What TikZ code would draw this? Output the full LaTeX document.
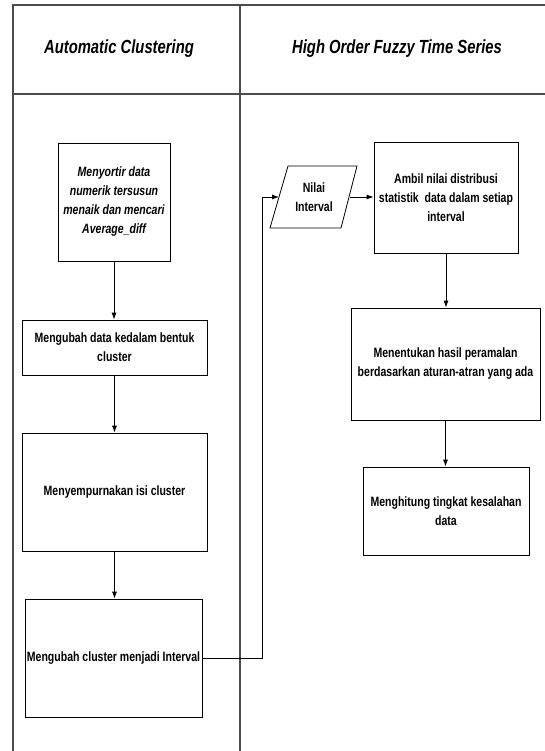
\documentclass[tikz,border=0pt]{standalone}
\usepackage{fontspec}
\setmainfont[FakeStretch=0.78]{Liberation Sans}
\usetikzlibrary{arrows.meta}
\begin{document}
\begin{tikzpicture}[x=1pt,y=-1pt,
  lane/.style={draw=black!70, line width=1.3pt},
  box/.style={draw, line width=0.8pt, align=center, inner sep=2pt,
    font=\fontsize{13.5}{19}\selectfont\bfseries},
  head/.style={font=\fontsize{19}{22}\selectfont\bfseries\itshape, anchor=base},
  arr/.style={-{Latex[length=7pt,width=5pt]}, line width=0.8pt},
  conn/.style={line width=0.8pt},
]
\useasboundingbox (0,0) rectangle (545,751);
% swimlane frame
\draw[lane] (545,5) -- (13,5) -- (13,751);
\draw[lane] (13,94) -- (545,94);
\draw[lane] (240,5) -- (240,751);
\node[head] (h1) at (119,54) {Automatic Clustering};
\node[head] (h2) at (397,54) {High Order Fuzzy Time Series};
% left lane
\node[box, minimum width=112pt, minimum height=118pt, font=\fontsize{13.5}{19}\selectfont\bfseries\itshape] (b1) at (114,202)
  {Menyortir data\\numerik tersusun\\menaik dan mencari\\Average\_diff};
\node[box, minimum width=185pt, minimum height=55pt] (b2) at (114.5,347.5)
  {Mengubah data kedalam bentuk\\cluster};
\node[box, minimum width=185pt, minimum height=118pt] (b3) at (114.5,492)
  {Menyempurnakan isi cluster};
\node[box, minimum width=177pt, minimum height=118pt] (b4) at (113.5,658)
  {Mengubah cluster menjadi Interval};
% right lane
\node[box, draw=none, minimum width=60pt, minimum height=60pt] (p) at (314,197) {Nilai\\Interval};
\draw[line width=0.8pt] (288,166) -- (357,166) -- (341,228) -- (270,228) -- cycle;
\coordinate (pin) at (279,197);
\coordinate (pout) at (350,197);
\node[box, minimum width=144pt, minimum height=111pt] (bA) at (446,197.5)
  {Ambil nilai distribusi\\statistik\ \ data dalam setiap\\interval};
\node[box, minimum width=189pt, minimum height=112pt] (bB) at (445.5,364)
  {Menentukan hasil peramalan\\berdasarkan aturan-atran yang ada};
\node[box, minimum width=166pt, minimum height=88pt] (bC) at (446,511)
  {Menghitung tingkat kesalahan\\data};
% connectors
\draw[arr] (b1.south) -- (b1.south |- b2.north);
\draw[arr] (b2.south) -- (b2.south |- b3.north);
\draw[arr] (b3.south) -- (b3.south |- b4.north);
\draw[arr] (b4.east) -- ++(60,0) |- (pin);
\draw[arr] (pout) -- (bA.west |- pout);
\draw[arr] (bA.south) -- (bA.south |- bB.north);
\draw[arr] (bB.south) -- (bB.south |- bC.north);
\end{tikzpicture}
\end{document}
